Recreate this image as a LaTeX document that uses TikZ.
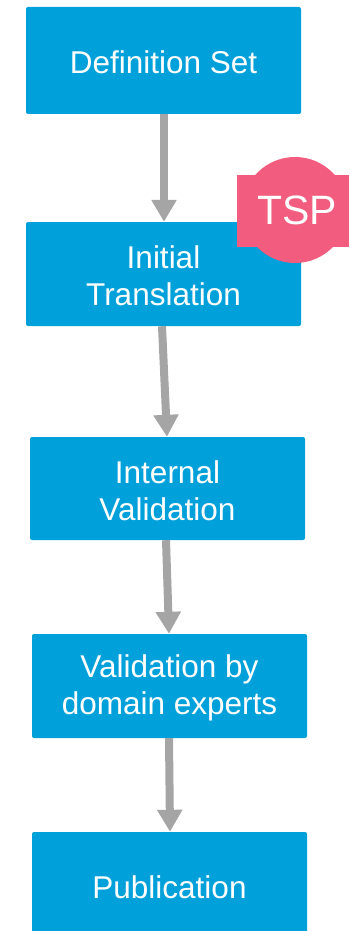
\documentclass[tikz,border=0pt]{standalone}
\usepackage{fontspec}
\setmainfont{Liberation Sans}
\usetikzlibrary{arrows.meta}
\definecolor{boxblue}{RGB}{0,160,218}
\definecolor{tsppink}{RGB}{242,92,126}
\definecolor{arrgray}{RGB}{165,165,165}
\begin{document}
\begin{tikzpicture}[x=1pt,y=-1pt,
  stepbox/.style={fill=boxblue, draw=none, rounded corners=2pt, minimum width=275pt, inner sep=0pt},
  steptext/.style={text=white, align=center, font=\fontsize{31.5}{37}\selectfont, inner sep=0pt},
  flow/.style={draw=arrgray, line width=8pt, -{Triangle[width=24pt,length=22pt]}}]
\useasboundingbox (0,0) rectangle (349,931);
\node[stepbox, minimum height=107pt] (b1) at (163.5,60.5) {};
\node[stepbox, minimum height=104pt] (b2) at (163.5,274) {};
\node[stepbox, minimum height=103pt] (b3) at (167.5,488.5) {};
\node[stepbox, minimum height=104pt] (b4) at (169.5,686) {};
\node[stepbox, minimum height=110pt] (b5) at (169.5,887) {};
\node[steptext] (t1) at ([yshift=-2pt]b1.center) {Definition Set};
\node[steptext] (t2) at ([yshift=-2pt]b2.center) {Initial\\Translation};
\node[steptext] (t3) at ([yshift=-2pt]b3.center) {Internal\\Validation};
\node[steptext] (t4) at ([yshift=-1.5pt]b4.center) {Validation by\\domain experts};
\node[steptext] (t5) at (b5.center) {Publication};
\fill[tsppink] (295,210) circle (53pt);
\fill[tsppink] (237,175) rectangle (349,247);
\node[text=white, font=\fontsize{41}{41}\selectfont, inner sep=0pt] (tsp) at (297,210) {TSP};
\draw[flow] ([xshift=0.5pt]b1.south) -- ([xshift=0.5pt]b2.north);
\draw[flow] ([xshift=-1.5pt]b2.south) -- ([xshift=-0.5pt]b3.north);
\draw[flow] ([xshift=-1.5pt]b3.south) -- ([xshift=-0.5pt]b4.north);
\draw[flow] ([xshift=-0.5pt]b4.south) -- ([xshift=0.5pt]b5.north);
\end{tikzpicture}
\end{document}
